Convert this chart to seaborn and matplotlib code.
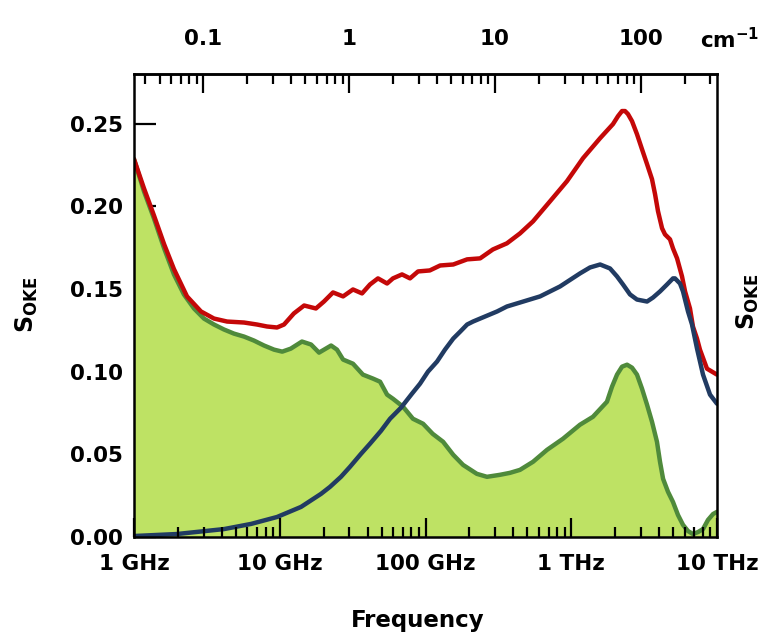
import numpy as np
import pandas as pd
import seaborn as sns
import matplotlib
matplotlib.use("Agg")
import matplotlib.pyplot as plt
from matplotlib.ticker import FixedLocator, LogLocator, NullFormatter, NullLocator

# Frequencies in GHz and OKE spectral densities for the three spectra
green_freq = [1.0, 1.17, 1.37, 1.61, 1.88, 2.20, 2.58, 3.02, 3.54, 4.14, 4.85, 5.69, 6.65,
              7.80, 9.14, 10.4, 11.9, 14.2, 16.4, 18.6, 22.5, 24.7, 27.2, 31.8, 37.2, 43.6,
              48.8, 54.5, 59.8, 70.1, 82.0, 96.2, 112, 132, 155, 181, 225, 264, 324, 380,
              445, 547, 682, 877, 1148, 1409, 1758, 1904, 2061, 2230, 2415, 2611, 2825,
              3058, 3311, 3581, 3873, 4064, 4266, 4613, 4989, 5400, 5848, 6324, 6839, 7413,
              8017, 8670, 9397, 10000]
green_s = [0.2285, 0.2091, 0.1927, 0.1745, 0.1588, 0.1467, 0.1382, 0.1321, 0.1285, 0.1255,
           0.1230, 0.1212, 0.1188, 0.1158, 0.1133, 0.1121, 0.1139, 0.1182, 0.1164, 0.1115,
           0.1158, 0.1133, 0.1073, 0.1048, 0.0982, 0.0958, 0.0939, 0.0861, 0.0836, 0.0788,
           0.0715, 0.0685, 0.0624, 0.0576, 0.0497, 0.0436, 0.0382, 0.0364, 0.0376, 0.0388,
           0.0406, 0.0455, 0.0527, 0.0594, 0.0679, 0.0727, 0.0818, 0.0909, 0.0982, 0.1030,
           0.1042, 0.1024, 0.0982, 0.0897, 0.0800, 0.0697, 0.0576, 0.0455, 0.0352, 0.0273,
           0.0212, 0.0133, 0.0073, 0.0036, 0.0018, 0.0030, 0.0048, 0.0103, 0.0139, 0.0152]

red_freq = [1.0, 1.17, 1.37, 1.61, 1.88, 2.31, 2.88, 3.54, 4.35, 5.69, 6.98, 8.18, 9.58,
            10.7, 12.5, 14.7, 17.7, 20.1, 23.2, 27.2, 31.8, 36.7, 41.6, 47.2, 54.5, 59.8,
            69.0, 78.3, 88.9, 107, 126, 155, 193, 237, 290, 362, 445, 547, 715, 935, 1205,
            1578, 1933, 2093, 2230, 2338, 2449, 2611, 2825, 3058, 3311, 3581, 3758, 3938,
            4198, 4398, 4760, 4991, 5321, 5753, 6039, 6526, 6839, 7291, 7640, 8535, 10000]
red_s = [0.2285, 0.2109, 0.1945, 0.1770, 0.1620, 0.1455, 0.1364, 0.1321, 0.1303, 0.1297,
         0.1285, 0.1273, 0.1267, 0.1285, 0.1352, 0.1400, 0.1382, 0.1424, 0.1479, 0.1455,
         0.1497, 0.1473, 0.1527, 0.1564, 0.1533, 0.1564, 0.1588, 0.1564, 0.1606, 0.1612,
         0.1642, 0.1648, 0.1679, 0.1685, 0.1739, 0.1776, 0.1836, 0.1909, 0.2030, 0.2152,
         0.2291, 0.2412, 0.2497, 0.2545, 0.2576, 0.2576, 0.2558, 0.2515, 0.2436, 0.2345,
         0.2255, 0.2164, 0.2073, 0.1970, 0.1867, 0.1830, 0.1800, 0.1745, 0.1685, 0.1576,
         0.1485, 0.1382, 0.1273, 0.1200, 0.1133, 0.1018, 0.0982]

blue_freq = [1.0, 1.97, 4.15, 6.35, 9.58, 14.0, 19.2, 22.1, 26.3, 30.3, 36.1, 41.6, 49.5,
             57.1, 67.9, 80.8, 91.7, 104, 120, 136, 155, 173, 193, 212, 237, 310, 362, 445,
             611, 837, 1148, 1345, 1578, 1845, 2060, 2265, 2530, 2825, 3311, 3638, 4064,
             4539, 4989, 5150, 5572, 5844, 6324, 6738, 7295, 8017, 8954, 10000]
blue_s = [0.0006, 0.0018, 0.0048, 0.0079, 0.0121, 0.0182, 0.0261, 0.0303, 0.0364, 0.0424,
          0.0503, 0.0564, 0.0642, 0.0715, 0.0782, 0.0867, 0.0927, 0.1000, 0.1061, 0.1133,
          0.1200, 0.1242, 0.1285, 0.1303, 0.1321, 0.1364, 0.1394, 0.1418, 0.1455, 0.1515,
          0.1594, 0.1630, 0.1648, 0.1624, 0.1576, 0.1527, 0.1467, 0.1436, 0.1424, 0.1448,
          0.1485, 0.1527, 0.1564, 0.1564, 0.1533, 0.1485, 0.1364, 0.1285, 0.1139, 0.0982,
          0.0861, 0.0806]

bottom_ticks = [1, 10, 100, 1000, 10000]
bottom_labels = ["1 GHz", "10 GHz", "100 GHz", "1 THz", "10 THz"]
top_ticks = [0.1, 1, 10, 100]
top_labels = ["0.1", "1", "10", "100"]
y_ticks = [0.00, 0.05, 0.10, 0.15, 0.20, 0.25]

RED = "#c40808"
BLUE = "#213b62"
GREEN_LINE = "#4f8a3b"
GREEN_FILL = "#bee264"

sns.set_theme(style="ticks")
plt.rcParams["font.family"] = ["DejaVu Sans"]
plt.rcParams["font.weight"] = "bold"
plt.rcParams["text.color"] = "black"
plt.rcParams["axes.labelcolor"] = "black"
plt.rcParams["xtick.color"] = "black"
plt.rcParams["ytick.color"] = "black"
plt.rcParams["xtick.labelcolor"] = "black"
plt.rcParams["ytick.labelcolor"] = "black"
plt.rcParams["mathtext.fontset"] = "custom"
plt.rcParams["mathtext.rm"] = "DejaVu Sans:bold"
plt.rcParams["mathtext.bf"] = "DejaVu Sans:bold"
plt.rcParams["mathtext.it"] = "DejaVu Sans:bold"

fig = plt.figure(figsize=(7.65, 6.34), dpi=100)
ax = fig.add_axes([134 / 765, 1 - 537 / 634, (717 - 134) / 765, (537 - 74) / 634])

green_df = pd.DataFrame({"freq": green_freq, "S": green_s})
red_df = pd.DataFrame({"freq": red_freq, "S": red_s})
blue_df = pd.DataFrame({"freq": blue_freq, "S": blue_s})

ax.fill_between(green_df["freq"], 0, green_df["S"], color=GREEN_FILL, lw=0, zorder=2)
line_kw = dict(lw=3.2, sort=False, estimator=None, ax=ax, zorder=4)
sns.lineplot(data=green_df, x="freq", y="S", color=GREEN_LINE, **line_kw)
sns.lineplot(data=red_df, x="freq", y="S", color=RED, **line_kw)
sns.lineplot(data=blue_df, x="freq", y="S", color=BLUE, **line_kw)
for ln in ax.get_lines():
    ln.set_solid_joinstyle("round")
    ln.set_solid_capstyle("round")

ax.set_xscale("log")
ax.set_xlim(1, 10000)
ax.set_ylim(0, 0.28)

# bottom axis: inward decade ticks with unit labels, drawn over the fill
ax.xaxis.set_major_locator(FixedLocator(bottom_ticks))
ax.set_xticklabels(bottom_labels)
ax.xaxis.set_minor_locator(LogLocator(base=10, subs=np.arange(2, 10), numticks=20))
ax.xaxis.set_minor_formatter(NullFormatter())
ax.tick_params(axis="x", which="major", direction="in", length=14, width=1.6,
               labelsize=15.5, pad=12, colors="black")
ax.tick_params(axis="x", which="minor", direction="in", length=7, width=1.6,
               colors="black")
ax.xaxis.set_zorder(5)

# left axis: inward ticks kept beneath the filled area
ax.set_yticks(y_ticks)
ax.set_yticklabels([f"{v:.2f}" for v in y_ticks])
ax.yaxis.set_minor_locator(NullLocator())
ax.tick_params(axis="y", which="major", direction="in", length=16, width=1.6,
               labelsize=15.5, pad=8, colors="black")
ax.yaxis.set_zorder(1)

for sp in ax.spines.values():
    sp.set_linewidth(1.8)
    sp.set_color("black")
    sp.set_zorder(5)

ax.set_xlabel("")
ax.set_ylabel("")
ax.grid(False)

# top axis in wavenumbers (1 cm^-1 = 29.98 GHz)
C_GHZ = 29.9792458
sec = ax.secondary_xaxis("top", functions=(lambda f: f / C_GHZ, lambda k: k * C_GHZ))
sec.xaxis.set_major_locator(FixedLocator(top_ticks))
sec.set_xticklabels(top_labels)
sec.xaxis.set_minor_locator(LogLocator(base=10, subs=np.arange(2, 10), numticks=20))
sec.xaxis.set_minor_formatter(NullFormatter())
sec.tick_params(axis="x", which="major", direction="in", length=14, width=1.6,
                labelsize=15.5, pad=18, colors="black")
sec.tick_params(axis="x", which="minor", direction="in", length=7, width=1.6,
                colors="black")
sec.spines["top"].set_linewidth(1.8)
sec.spines["top"].set_color("black")

fig.text(700 / 765, 1 - 40 / 634, r"cm$^{-1}$", fontsize=15.5, fontweight="bold",
         color="black", ha="left", va="center")

fig.text(418 / 765, 1 - 620 / 634, "Frequency", fontsize=16.5, fontweight="bold",
         color="black", ha="center", va="center")
fig.text(27 / 765, 1 - 305 / 634, r"S$_{\mathrm{OKE}}$", fontsize=17, fontweight="bold",
         color="black", rotation=90, ha="center", va="center")
fig.text(748 / 765, 1 - 302 / 634, r"S$_{\mathrm{OKE}}$", fontsize=17, fontweight="bold",
         color="black", rotation=90, ha="center", va="center")

fig.savefig("out.png", dpi=100)
